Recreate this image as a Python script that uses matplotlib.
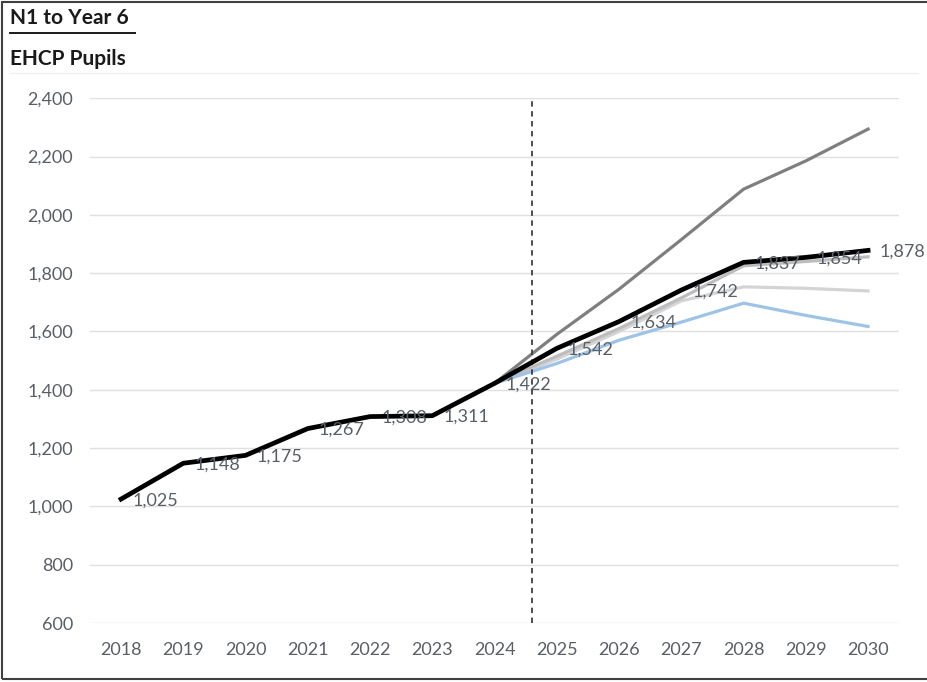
import matplotlib.pyplot as plt
from matplotlib.patches import Rectangle
from matplotlib.ticker import FuncFormatter

years = [2018, 2019, 2020, 2021, 2022, 2023, 2024, 2025, 2026, 2027, 2028, 2029, 2030]
actual = [1025, 1148, 1175, 1267, 1308, 1311, 1422, 1542, 1634, 1742, 1837, 1854, 1878]

proj_years = [2024, 2025, 2026, 2027, 2028, 2029, 2030]
high = [1422, 1590, 1745, 1915, 2088, 2185, 2294]
mid = [1422, 1515, 1610, 1715, 1825, 1840, 1856]
flat = [1422, 1505, 1600, 1705, 1753, 1748, 1739]
low = [1422, 1490, 1570, 1632, 1697, 1655, 1617]

split_year = 2024.6

plt.rcParams['font.family'] = ['Lato', 'DejaVu Sans']
txt_color = '#5a5f66'

fig = plt.figure(figsize=(9.27, 6.82), dpi=100)
ax = fig.add_axes([0.097, 0.0865, 0.873, 0.7695])

ax.plot(proj_years, high, color='#7f7f7f', lw=2.3, zorder=3)
ax.plot(proj_years, flat, color='#d4d4d4', lw=2.3, zorder=3)
ax.plot(proj_years, mid, color='#bdbdbd', lw=2.3, zorder=3)
ax.plot(proj_years, low, color='#9dc3e6', lw=2.3, zorder=3)
ax.plot(years, actual, color='black', lw=3.4, zorder=5)

for x, y in zip(years, actual):
    ax.annotate(f'{y:,}', (x, y), xytext=(8, -1), textcoords='offset points',
                ha='left', va='center', fontsize=13, color=txt_color,
                zorder=6, annotation_clip=False)

ax.axvline(split_year, color='#404040', lw=1.3, ls=(0, (3, 2.5)), zorder=4)

ax.set_xlim(2017.5, 2030.5)
ax.set_ylim(600, 2400)
ax.set_xticks(years)
ax.set_yticks(range(600, 2401, 200))
ax.yaxis.set_major_formatter(FuncFormatter(lambda v, p: f'{int(v):,}'))
ax.grid(axis='y', color='#e0e0e0', lw=1)
ax.set_axisbelow(True)
for s in ax.spines.values():
    s.set_visible(False)
ax.tick_params(length=0, labelsize=13, labelcolor=txt_color)
ax.tick_params(axis='x', pad=14)
ax.tick_params(axis='y', pad=12)

fig.text(0.011, 0.973, 'N1 to Year 6', fontsize=15, fontweight='bold', color='#1a1a1a',
         ha='left', va='center')
fig.add_artist(plt.Line2D([0.011, 0.146], [0.951, 0.951], color='#1a1a1a', lw=1.4))
fig.text(0.011, 0.914, 'EHCP Pupils', fontsize=15, fontweight='bold', color='#1a1a1a',
         ha='left', va='center')
fig.add_artist(plt.Line2D([0.011, 0.99], [0.893, 0.893], color='#f0f0f0', lw=1))

fig.add_artist(Rectangle((0.002, 0.004), 1.5, 0.993, transform=fig.transFigure,
                         fill=False, edgecolor='#404040', lw=1.5))

fig.savefig('out.png', dpi=100)
